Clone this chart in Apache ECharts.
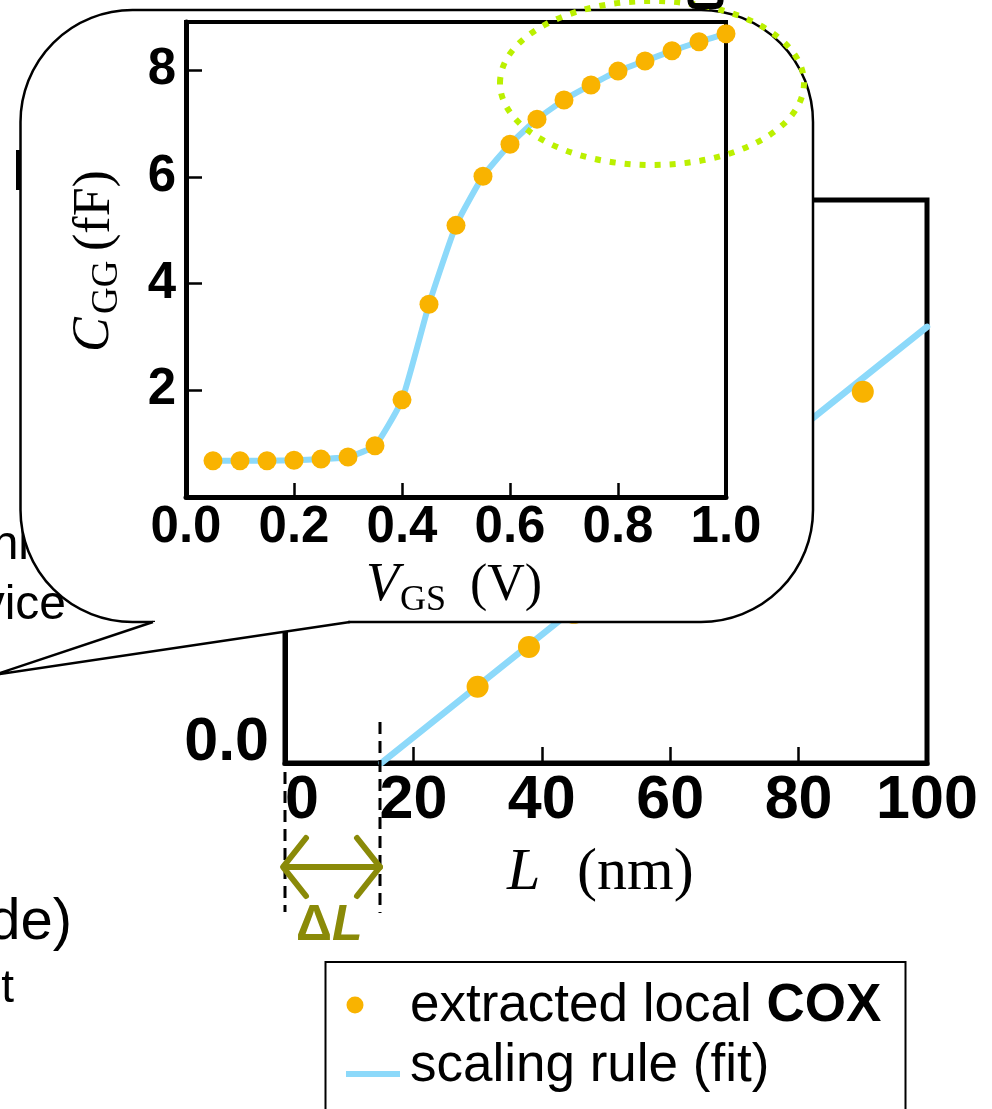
<!DOCTYPE html>
<html>
<head>
<meta charset="utf-8">
<script src="https://cdn.jsdelivr.net/npm/echarts@6/dist/echarts.min.js"></script>
<style>
html,body{margin:0;padding:0;background:#fff;}
#c{width:992px;height:1109px;}
</style>
</head>
<body>
<div id="c"></div>
<script>
// ---- Inset: C_GG vs V_GS ----
const VGS = [0.05,0.10,0.15,0.20,0.25,0.30,0.35,0.40,0.45,0.50,0.55,0.60,0.65,0.70,0.75,0.80,0.85,0.90,0.95,1.00];
const CGG = [0.68,0.68,0.68,0.69,0.71,0.75,0.96,1.82,3.61,5.09,6.01,6.61,7.08,7.44,7.72,7.98,8.17,8.36,8.53,8.68];
// ---- Main: extracted local COX vs L ----
const L_pts   = [30, 38, 45, 90];
const COX_pts = [0.203, 0.309, 0.40, 0.989];
// scaling rule (fit) endpoints
const FIT_L   = [15, 100];
const FIT_COX = [0, 1.162];
// legend / labels
const LEGEND_POINTS = 'extracted local {b|COX}';
const LEGEND_FIT = 'scaling rule (fit)';

const ORANGE = '#f9b300';
const BLUE = '#8cd9fa';
const GREEN = '#bbf000';
const OLIVE = '#8a8a08';
const SANS = '"Liberation Sans", Arial, sans-serif';
const SERIF = '"Liberation Serif", "Times New Roman", serif';

const chart = echarts.init(document.getElementById('c'), null, {renderer:'canvas'});

function txt(x, y, text, opt, z, rot) {
  const st = Object.assign({text: text, fill: '#000', fontFamily: SANS, fontSize: 50,
    align: 'left', verticalAlign: 'middle', textAlign: 'left', textVerticalAlign: 'middle'}, opt);
  const el = {type: 'text', x: x, y: y, z: z || 5, silent: true, style: st};
  if (rot) el.rotation = rot;
  return el;
}

const option = {
  animation: false,
  backgroundColor: '#fff',
  grid: [
    {left: 285, top: 200, right: 65, bottom: 346, show: true, borderColor: '#000', borderWidth: 5, backgroundColor: 'transparent', z: 0},
    {left: 186, top: 22, right: 266, bottom: 612, show: true, borderColor: '#000', borderWidth: 4, backgroundColor: 'transparent', z: 20}
  ],
  xAxis: [
    {gridIndex: 0, type: 'value', min: 0, max: 100, interval: 20, z: 0,
     axisLine: {lineStyle: {color: '#000', width: 5}},
     axisTick: {inside: true, length: 16, lineStyle: {color: '#000', width: 2.5}},
     axisLabel: {color: '#000', fontFamily: SANS, fontWeight: 'bold', fontSize: 61, margin: 8, alignMinLabel: 'left'},
     splitLine: {show: false}},
    {gridIndex: 1, type: 'value', min: 0, max: 1, interval: 0.2, z: 20,
     axisLine: {lineStyle: {color: '#000', width: 5}},
     axisTick: {inside: true, length: 14, lineStyle: {color: '#000', width: 2.5}},
     axisLabel: {color: '#000', fontFamily: SANS, fontWeight: 'bold', fontSize: 51, margin: 5,
                 formatter: v => v.toFixed(1)},
     splitLine: {show: false}}
  ],
  yAxis: [
    {gridIndex: 0, type: 'value', min: 0, max: 1.5, interval: 0.5, z: 0,
     axisLine: {lineStyle: {color: '#000', width: 5}},
     axisTick: {inside: true, length: 16, lineStyle: {color: '#000', width: 2.5}},
     axisLabel: {color: '#000', fontFamily: SANS, fontWeight: 'bold', fontSize: 61, margin: 16,
                 lineHeight: 40, verticalAlignMinLabel: 'bottom', formatter: v => v.toFixed(1)},
     splitLine: {show: false}},
    {gridIndex: 1, type: 'value', min: 0, max: 8.9, interval: 2, z: 20,
     axisLine: {lineStyle: {color: '#000', width: 5}},
     axisTick: {inside: true, length: 16, lineStyle: {color: '#000', width: 2.5}},
     axisLabel: {color: '#000', fontFamily: SANS, fontWeight: 'bold', fontSize: 51, margin: 10,
                 showMinLabel: false, showMaxLabel: false},
     splitLine: {show: false}}
  ],
  series: [
    {name: 'scaling rule (fit)', type: 'line', xAxisIndex: 0, yAxisIndex: 0, z: 2, silent: true,
     data: FIT_L.map((l, i) => [l, FIT_COX[i]]), symbol: 'none',
     lineStyle: {color: BLUE, width: 6.5, cap: 'round'}},
    {name: 'extracted local COX', type: 'scatter', xAxisIndex: 0, yAxisIndex: 0, z: 3, silent: true,
     data: L_pts.map((l, i) => [l, COX_pts[i]]), symbolSize: 22, itemStyle: {color: ORANGE, opacity: 1}},
    {name: 'CGG fit', type: 'line', xAxisIndex: 1, yAxisIndex: 1, z: 21, silent: true,
     data: VGS.map((v, i) => [v, CGG[i]]), symbol: 'none', smooth: 0.15,
     lineStyle: {color: BLUE, width: 6, cap: 'round'}},
    {name: 'CGG', type: 'scatter', xAxisIndex: 1, yAxisIndex: 1, z: 22, silent: true,
     data: VGS.map((v, i) => [v, CGG[i]]), symbolSize: 19, itemStyle: {color: ORANGE, opacity: 1}}
  ],
  graphic: {elements: [
    // partially hidden fragments at the left edge
    txt(29, 546, 'nl', {fontSize: 48, align: 'right', textAlign: 'right'}, 1),
    txt(66, 606, 'vice', {fontSize: 48, align: 'right', textAlign: 'right'}, 1),
    txt(72, 923, 'de)', {fontSize: 58, align: 'right', textAlign: 'right'}, 1),
    txt(14, 989, 't', {fontSize: 46, align: 'right', textAlign: 'right'}, 1),
    {type: 'rect', z: 1, silent: true, shape: {x: 16, y: 150, width: 5, height: 40}, style: {fill: '#000'}},
    // callout bubble
    {type: 'rect', z: 10, silent: true, shape: {x: 20.5, y: 10, width: 792.5, height: 612, r: 112},
     style: {fill: '#fff', stroke: '#000', lineWidth: 2.5}},
    {type: 'polygon', z: 11, silent: true, shape: {points: [[153, 622], [-6, 675], [350, 622]]},
     style: {fill: '#fff'}},
    {type: 'rect', z: 11, silent: true, shape: {x: 155, y: 619, width: 193, height: 6}, style: {fill: '#fff'}},
    {type: 'polyline', z: 12, silent: true, shape: {points: [[153, 622], [-6, 675], [350, 622]]},
     style: {fill: null, stroke: '#000', lineWidth: 2.5}},
    // inset axis titles
    txt(94.5, 352, 'C', {fontFamily: SERIF, fontStyle: 'italic', fontSize: 52}, 25, Math.PI / 2),
    txt(107.5, 314, 'GG', {fontFamily: SERIF, fontSize: 37}, 25, Math.PI / 2),
    txt(95, 251, '(fF)', {fontFamily: SERIF, fontSize: 52}, 25, Math.PI / 2),
    txt(366, 586, 'V', {fontFamily: SERIF, fontStyle: 'italic', fontSize: 54}, 25),
    txt(400, 601, 'GS', {fontFamily: SERIF, fontSize: 36}, 25),
    txt(470, 586.5, '(V)', {fontFamily: SERIF, fontSize: 52}, 25),
    // main x title
    txt(507, 873, 'L', {fontFamily: SERIF, fontStyle: 'italic', fontSize: 60}, 5),
    txt(577, 873, '(nm)', {fontFamily: SERIF, fontSize: 60}, 5),
    // dotted highlight ellipse
    {type: 'ellipse', z: 30, silent: true, shape: {cx: 652, cy: 83, rx: 152, ry: 82},
     style: {fill: null, stroke: GREEN, lineWidth: 6, lineDash: [6, 9]}},
    {type: 'rect', z: 30, silent: true, shape: {x: 690.5, y: -25, width: 30, height: 31, r: 5},
     style: {fill: null, stroke: '#000', lineWidth: 6}},
    // delta L annotation
    {type: 'line', z: 5, silent: true, shape: {x1: 285, y1: 772, x2: 285, y2: 912},
     style: {stroke: '#000', lineWidth: 3, lineDash: [12, 7]}},
    {type: 'line', z: 5, silent: true, shape: {x1: 380, y1: 722, x2: 380, y2: 913},
     style: {stroke: '#000', lineWidth: 3, lineDash: [12, 7]}},
    {type: 'line', z: 6, silent: true, shape: {x1: 284, y1: 867, x2: 380, y2: 867},
     style: {stroke: OLIVE, lineWidth: 6, lineCap: 'round'}},
    {type: 'polyline', z: 6, silent: true, shape: {points: [[306, 838], [283, 867], [306, 896]]},
     style: {fill: null, stroke: OLIVE, lineWidth: 6, lineCap: 'round', lineJoin: 'round'}},
    {type: 'polyline', z: 6, silent: true, shape: {points: [[357, 838], [380, 867], [357, 896]]},
     style: {fill: null, stroke: OLIVE, lineWidth: 6, lineCap: 'round', lineJoin: 'round'}},
    txt(296, 926, '{a|Δ}{b|L}', {fill: OLIVE, rich: {
      a: {fontFamily: SANS, fontWeight: 'bold', fontSize: 50, fill: OLIVE},
      b: {fontFamily: SANS, fontWeight: 'bold', fontStyle: 'italic', fontSize: 50, fill: OLIVE}}}, 6),
    // legend
    {type: 'rect', z: 5, silent: true, shape: {x: 325.5, y: 962, width: 580, height: 220},
     style: {fill: '#fff', stroke: '#000', lineWidth: 2}},
    {type: 'circle', z: 6, silent: true, shape: {cx: 355, cy: 1005, r: 8.5}, style: {fill: ORANGE}},
    {type: 'line', z: 6, silent: true, shape: {x1: 346, y1: 1074, x2: 400, y2: 1074},
     style: {stroke: BLUE, lineWidth: 6}},
    txt(410, 1006, LEGEND_POINTS, {fontSize: 53, rich: {
      b: {fontFamily: SANS, fontWeight: 'bold', fontSize: 53, fill: '#000'}}}, 6),
    txt(410, 1066, LEGEND_FIT, {fontSize: 53}, 6)
  ]}
};
chart.setOption(option);
</script>
</body>
</html>
